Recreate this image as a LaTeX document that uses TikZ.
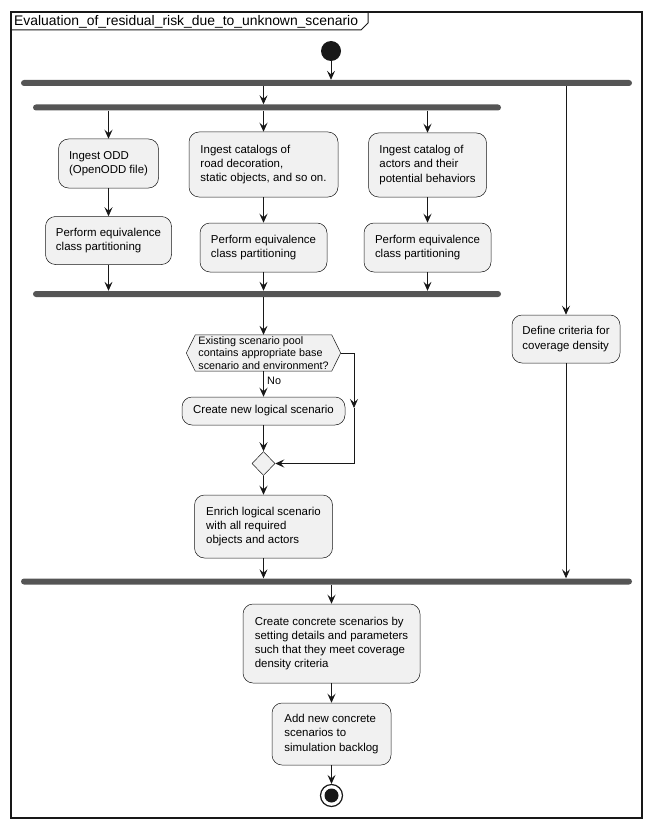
\documentclass[tikz,border=0pt]{standalone}
\usepackage{fontspec}
\setmainfont{Liberation Sans}
\usetikzlibrary{arrows.meta,backgrounds,shapes.geometric}
\definecolor{boxfill}{HTML}{F1F1F1}
\definecolor{ink}{HTML}{181818}
\definecolor{barcol}{HTML}{555555}
\begin{document}
\begin{tikzpicture}[x=1pt,y=-1pt,
  act/.style={draw=ink, line width=0.5pt, fill=boxfill, rounded corners=10pt, inner sep=0pt, align=left, font=\fontsize{11.45}{14.2}\selectfont},
  decis/.style={inner sep=0pt, align=left, font=\fontsize{10.8}{12.8}\selectfont},
  forkbar/.style={fill=barcol, draw=none, minimum height=6pt, inner sep=0pt, rounded corners=3pt},
  arr/.style={draw=ink, line width=0.8pt, -{Stealth[length=9pt,width=8pt,inset=3.5pt]}},
  plain/.style={draw=ink, line width=0.8pt},
  frameline/.style={draw=ink, line width=1.5pt}
]
\useasboundingbox (0,0) rectangle (652,829);

% frame
\draw[frameline] (11,12) rectangle (642,818);
\draw[draw=ink, line width=1pt] (11,30) -- (361,30) -- (368,23) -- (368,12);
\node[anchor=west, inner sep=0pt, font=\fontsize{13.9}{16}\selectfont] (title) at (14,21.5) {Evaluation\_of\_residual\_risk\_due\_to\_unknown\_scenario};

% start
\node[circle, fill=ink, minimum size=20pt, inner sep=0pt] (start) at (331,51) {};

% bars
\node[forkbar, minimum width=611pt] (fork1) at (326.5,83) {};
\node[forkbar, minimum width=468pt] (fork2) at (267,107.5) {};
\node[forkbar, minimum width=468pt] (join2) at (267,294) {};
\node[forkbar, minimum width=611pt] (join1) at (326.5,581.5) {};

% activities
\node[act, minimum width=100pt, minimum height=49pt] (odd) at (108.5,163.5) {Ingest ODD\\(OpenODD file)};
\node[act, minimum width=126pt, minimum height=48pt] (eq1) at (108.5,240.5) {Perform equivalence\\class partitioning};
\node[act, minimum width=149pt, minimum height=65pt] (road) at (263.5,164.5) {Ingest catalogs of\\road decoration,\\static objects, and so on.};
\node[act, minimum width=127pt, minimum height=49pt] (eq2) at (263.5,247.5) {Perform equivalence\\class partitioning};
\node[act, minimum width=118pt, minimum height=64pt] (actors) at (427.5,165) {Ingest catalog of\\actors and their\\potential behaviors};
\node[act, minimum width=127pt, minimum height=49pt] (eq3) at (427.5,247.5) {Perform equivalence\\class partitioning};
\node[act, minimum width=108pt, minimum height=48pt] (crit) at (566,339) {Define criteria for\\coverage density};

\node[decis, minimum width=154pt, minimum height=36pt] (dec) at (263.5,353) {Existing scenario pool\\contains appropriate base\\scenario and environment?};
\begin{scope}[on background layer]
\filldraw[draw=ink, fill=boxfill, line width=0.5pt] ([xshift=9pt]dec.north west) -- ([xshift=-9pt]dec.north east) -- (dec.east) -- ([xshift=-9pt]dec.south east) -- ([xshift=9pt]dec.south west) -- (dec.west) -- cycle;
\end{scope}
\node[anchor=west, inner sep=0pt, font=\fontsize{10.8}{12.8}\selectfont] (nolab) at (267,380.5) {No};

\node[act, minimum width=163pt, minimum height=28pt] (newlog) at (263.5,411) {Create new logical scenario};
\node[diamond, draw=ink, fill=boxfill, line width=0.5pt, minimum width=23pt, minimum height=24pt, inner sep=0pt] (merge) at (263.5,463.5) {};
\node[act, minimum width=138pt, minimum height=63pt] (enrich) at (263.5,526.5) {Enrich logical scenario\\with all required\\objects and actors};
\node[act, minimum width=177pt, minimum height=79pt] (concrete) at (331.5,643.5) {Create concrete scenarios by\\setting details and parameters\\such that they meet coverage\\density criteria};
\node[act, minimum width=119pt, minimum height=62pt] (add) at (331.5,734) {Add new concrete\\scenarios to\\simulation backlog};

% end
\node[circle, draw=ink, line width=1.2pt, fill=white, minimum size=22pt, inner sep=0pt] (stop) at (331.5,795.5) {};
\node[circle, fill=ink, minimum size=14pt, inner sep=0pt] (stopdot) at (stop) {};

% connectors
\draw[arr] (start.south) -- (start.south |- fork1.north);
\draw[arr] (fork1.south -| road.north) -- (fork2.north -| road.north);
\draw[arr] (fork1.south -| crit.north) -- (crit.north);
\draw[arr] (fork2.south -| odd.north) -- (odd.north);
\draw[arr] (fork2.south -| road.north) -- (road.north);
\draw[arr] (fork2.south -| actors.north) -- (actors.north);
\draw[arr] (odd.south) -- (eq1.north);
\draw[arr] (road.south) -- (eq2.north);
\draw[arr] (actors.south) -- (eq3.north);
\draw[arr] (eq1.south) -- (eq1.south |- join2.north);
\draw[arr] (eq2.south) -- (eq2.south |- join2.north);
\draw[arr] (eq3.south) -- (eq3.south |- join2.north);
\draw[arr] (join2.south -| dec.north) -- (dec.north);
\draw[arr] (dec.south) -- (newlog.north);
\draw[arr] (newlog.south) -- (merge.north);
\coordinate (rc1) at (354,353);
\coordinate (rcm) at (354,408);
\coordinate (rc2) at (354,463.5);
\draw[arr] (dec.east) -- (rc1) -- (rcm);
\draw[arr] (rcm) -- (rc2) -- (merge.east);
\draw[arr] (merge.south) -- (enrich.north);
\draw[arr] (enrich.south) -- (enrich.south |- join1.north);
\draw[arr] (crit.south) -- (crit.south |- join1.north);
\draw[arr] (join1.south -| concrete.north) -- (concrete.north);
\draw[arr] (concrete.south) -- (add.north);
\draw[arr] (add.south) -- (stop.north);
\end{tikzpicture}
\end{document}
